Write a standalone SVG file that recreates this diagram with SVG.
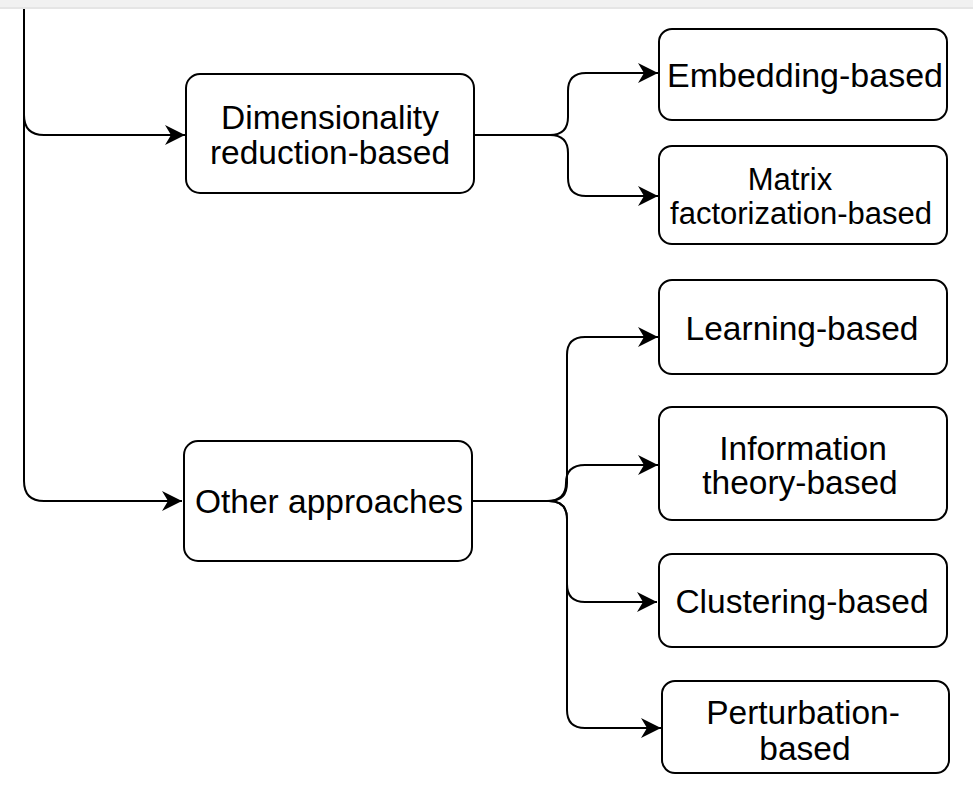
<svg xmlns="http://www.w3.org/2000/svg" width="973" height="786" viewBox="0 0 973 786">
  <style>
    .box { fill: #ffffff; stroke: #000000; stroke-width: 2; }
    .edge { fill: none; stroke: #000000; stroke-width: 2; }
    .lbl { font-family: "Liberation Sans", Arial, Helvetica, sans-serif; font-size: 33.5px; fill: #000000; text-anchor: middle; }
  </style>
  <defs>
    <marker id="arrow" markerUnits="userSpaceOnUse" markerWidth="24" markerHeight="24" viewBox="-22 -12 24 24" refX="0" refY="0" orient="auto">
      <path d="M0,0 L-20,-10 L-14,0 L-20,10 Z" fill="#000000"/>
    </marker>
  </defs>

  <!-- page header strip -->
  <rect x="0" y="0" width="973" height="9" fill="#f1f1f1"/>
  <rect x="0" y="7" width="973" height="2" fill="#e5e5e5"/>

  <g id="connectors">
    <!-- trunk from above into both groups -->
    <path class="edge" d="M24,9 V115 Q24,135 44,135 H185" marker-end="url(#arrow)"/>
    <path class="edge" d="M24,115 V481 Q24,501 44,501 H182" marker-end="url(#arrow)"/>
    <!-- dimensionality reduction branches -->
    <path class="edge" d="M474,135 H550 Q568,135 568,117 V91 Q568,73 586,73 H658" marker-end="url(#arrow)"/>
    <path class="edge" d="M474,135 H550 Q568,135 568,153 V178 Q568,196 586,196 H658" marker-end="url(#arrow)"/>
    <!-- other approaches branches -->
    <path class="edge" d="M472,501 H549 Q567,501 567,483 V355 Q567,337 585,337 H658" marker-end="url(#arrow)"/>
    <path class="edge" d="M472,501 H547 Q566,501 566,483 Q566,465 585,465 H658" marker-end="url(#arrow)"/>
    <path class="edge" d="M472,501 H549 Q567,501 567,519 V584 Q567,602 585,602 H657" marker-end="url(#arrow)"/>
    <path class="edge" d="M472,501 H549 Q567,501 567,519 V710 Q567,728 585,728 H661" marker-end="url(#arrow)"/>
  </g>

  <g id="dimensionality-reduction">
    <rect class="box" x="186" y="74" width="288" height="119" rx="14"/>
    <text class="lbl" x="330" y="129">Dimensionality</text>
    <text class="lbl" x="330" y="164">reduction-based</text>
  </g>

  <g id="other-approaches">
    <rect class="box" x="184" y="441" width="288" height="120" rx="14"/>
    <text class="lbl" x="329" y="513">Other approaches</text>
  </g>

  <g id="embedding">
    <rect class="box" x="659" y="29" width="288" height="91" rx="13"/>
    <text class="lbl" x="805" y="87" style="font-size:34px">Embedding-based</text>
  </g>

  <g id="matrix-factorization">
    <rect class="box" x="659" y="146" width="288" height="98" rx="13"/>
    <text class="lbl" x="790" y="190" style="font-size:31px">Matrix</text>
    <text class="lbl" x="801" y="224" style="font-size:31px">factorization-based</text>
  </g>

  <g id="learning">
    <rect class="box" x="659" y="280" width="288" height="94" rx="13"/>
    <text class="lbl" x="802" y="340">Learning-based</text>
  </g>

  <g id="information-theory">
    <rect class="box" x="659" y="407" width="288" height="113" rx="13"/>
    <text class="lbl" x="803" y="460">Information</text>
    <text class="lbl" x="800" y="494">theory-based</text>
  </g>

  <g id="clustering">
    <rect class="box" x="659" y="554" width="288" height="93" rx="13"/>
    <text class="lbl" x="802" y="613">Clustering-based</text>
  </g>

  <g id="perturbation">
    <rect class="box" x="662" y="681" width="287" height="92" rx="13"/>
    <text class="lbl" x="803" y="724">Perturbation-</text>
    <text class="lbl" x="805" y="760">based</text>
  </g>
</svg>
